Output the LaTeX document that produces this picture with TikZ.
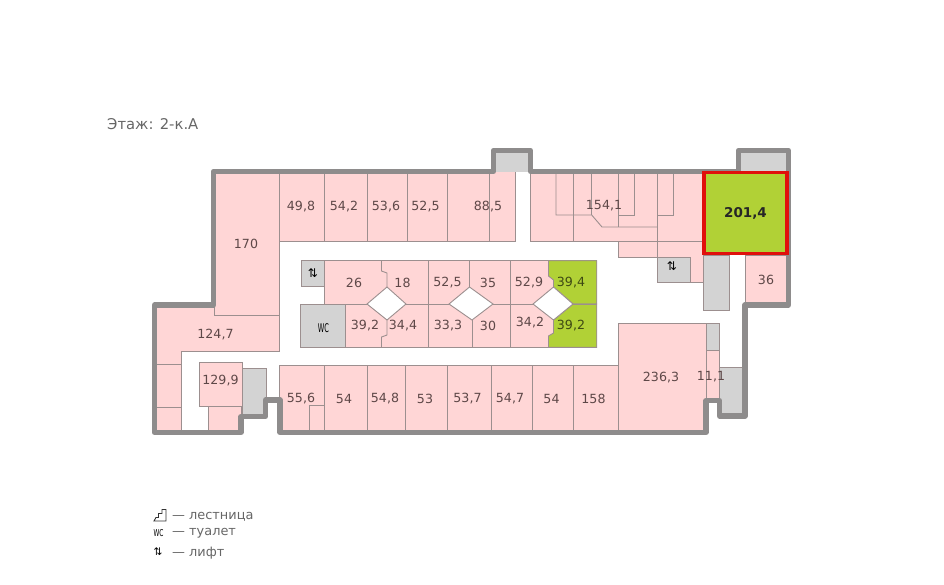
\documentclass[tikz,border=0pt]{standalone}
\usepackage{fontspec}
\setmainfont{DejaVu Sans}
\usetikzlibrary{positioning}
\definecolor{roompink}{HTML}{FFD6D6}
\definecolor{roomline}{HTML}{9C8F8F}
\definecolor{wallgray}{HTML}{8E8C8C}
\definecolor{servgray}{HTML}{D3D3D3}
\definecolor{soldgreen}{HTML}{B1D136}
\definecolor{markred}{HTML}{E0100C}
\definecolor{labelbrown}{HTML}{5E4848}
\definecolor{labelolive}{HTML}{3E4A14}
\definecolor{notegray}{HTML}{666666}
\begin{document}
\begin{tikzpicture}[
    x=1pt, y=-1pt,
    room/.style={fill=roompink, draw=roomline, line width=0.9pt},
    serv/.style={fill=servgray, draw=roomline, line width=0.9pt},
    sold/.style={fill=soldgreen, draw=roomline, line width=0.9pt},
    well/.style={fill=white, draw=roomline, line width=0.9pt},
    part/.style={draw=roomline, line width=0.9pt},
    wall/.style={draw=wallgray, line width=5.2pt, line join=round},
    marked/.style={fill=soldgreen, draw=markred, line width=3.6pt, line join=miter},
    area/.style={font=\fontsize{12.6}{14}\selectfont, text=labelbrown, inner sep=0pt},
    areagreen/.style={area, text=labelolive},
    note/.style={font=\fontsize{12.9}{14}\selectfont, text=notegray, inner sep=0pt, anchor=west},
    wcmark/.style={text=black, inner sep=0pt},
    liftmark/.style={text=black, inner sep=0pt}
]
    \useasboundingbox (0,0) rectangle (944,584);

    % rooms along the walls
    \path[room] (214,171) rectangle (279.5,315);
    \path[room] (279.5,171) rectangle (324,241);
    \path[room] (324,171) rectangle (367,241);
    \path[room] (367,171) rectangle (407,241);
    \path[room] (407,171) rectangle (447,241);
    \path[room] (447,171) rectangle (515.5,241);
    \draw[part] (489.5,171) -- (489.5,241);
    \path[room] (155,305) -- (214,305) -- (214,315) -- (279.5,315) -- (279.5,351) -- (181,351) -- (181,432) -- (155,432) -- cycle;
    \draw[part] (155,364) -- (181,364);
    \draw[part] (155,407) -- (181,407);
    \path[room] (208.5,405) rectangle (241,432);
    \path[room] (199,362) rectangle (242,406);
    \path[serv] (242,368.5) rectangle (266,415);

    % bottom row
    \path[room] (279.5,365) rectangle (324,432);
    \path[room] (309.5,405) rectangle (324,432);
    \path[room] (324,365) rectangle (367,432);
    \path[room] (367,365) rectangle (405,432);
    \path[room] (405,365) rectangle (447,432);
    \path[room] (447,365) rectangle (491,432);
    \path[room] (491,365) rectangle (532,432);
    \path[room] (532,365) rectangle (573,432);
    \path[room] (573,365) rectangle (618.5,432);
    \path[room] (618.5,323.5) rectangle (706,432);
    \path[serv] (706,323.5) rectangle (719,350.5);
    \path[room] (706,350.5) rectangle (719,400);
    \path[serv] (719.5,367) rectangle (743,415);

    % right part, room 154,1
    \path[room] (530.5,171) -- (703,171) -- (703,282) -- (657.5,282) -- (657.5,257) -- (618.5,257) -- (618.5,241) -- (530.5,241) -- cycle;
    \path[serv] (657.5,257) rectangle (690.5,282);
    \draw[part] (618.5,241) -- (703,241);
    \draw[part] (657.5,171) -- (657.5,257);
    \draw[part] (556,171) -- (556,215) -- (591.7,215) -- (602,227) -- (657.5,227);
    \draw[part] (573,171) -- (573,241);
    \draw[part] (591.7,171) -- (591.7,215);
    \draw[part] (618,171) -- (618,227);
    \draw[part] (618,215) -- (634.5,215) -- (634.5,171);
    \draw[part] (657.5,215) -- (673.5,215) -- (673.5,171);
    \path[serv] (703.5,255) rectangle (729.5,310);
    \path[room] (745,255) rectangle (788,305);
    \fill[servgray] (741,152) rectangle (787,171);
    \fill[servgray] (496,152) rectangle (528,172);

    % central block
    \path[room] (324.5,260.7) rectangle (596.7,347.3);
    \path[serv] (301.5,260.7) rectangle (324.5,286.5);
    \path[serv] (300,304) rectangle (345,347.3);
    \path[sold] (548.5,260.7) -- (596.7,260.7) -- (596.7,304) -- (573,304) -- (553.5,287) -- (553.5,280) -- (548.5,276) -- cycle;
    \path[sold] (548.5,347.3) -- (596.7,347.3) -- (596.7,304) -- (573,304) -- (553.5,320) -- (553.5,333) -- (548.5,336) -- cycle;
    \draw[part] (324.5,304) -- (597,304);
    \draw[part] (428,260.7) -- (428,347.3);
    \draw[part] (510.4,260.7) -- (510.4,347.3);
    \draw[part] (469.5,260.7) -- (469.5,287);
    \draw[part] (472,320) -- (472,347.3);
    \draw[part] (381.5,260.7) -- (381.5,271) -- (387,273) -- (387,287);
    \draw[part] (387,320) -- (387,335) -- (381.5,337) -- (381.5,347.3);
    \path[well] (367,304) -- (387,287) -- (406,304) -- (387,320) -- cycle;
    \path[well] (449,304) -- (469.5,287) -- (493,304) -- (472,320) -- cycle;
    \path[well] (533,304) -- (553.5,287) -- (573,304) -- (553.5,320) -- cycle;

    % outer wall
    \draw[wall] (213.5,171.5) -- (213.5,305) -- (154.5,305) -- (154.5,432.5) -- (241,432.5) -- (241,416.5) -- (265.5,416.5) -- (265.5,400) -- (280,400) -- (280,432.5) -- (706,432.5) -- (706,400.5) -- (719.5,400.5) -- (719.5,416) -- (745,416) -- (745,305) -- (788.5,305) -- (788.5,150.5) -- (738.5,150.5) -- (738.5,171.5) -- (530.5,171.5) -- (530.5,150.5) -- (493.5,150.5) -- (493.5,171.5) -- cycle;
    \path[marked] (703.7,172.5) rectangle (787,253.3);

    % areas
    \node[area] (a170) at (246,243.5) {170};
    \node[area] (a498) at (301,206.5) {49,8};
    \node[area] (a542) at (344,206.5) {54,2};
    \node[area] (a536) at (386,206.5) {53,6};
    \node[area] (a525) at (425.5,206.5) {52,5};
    \node[area] (a885) at (488,206.5) {88,5};
    \node[area] (a1541) at (604,205.5) {154,1};
    \node[area, font=\fontsize{13.5}{14}\selectfont\bfseries, text=black!85] (a2014) at (745.5,213.5) {201,4};
    \node[area] (a36) at (766,279.5) {36};
    \node[area] (a26) at (354,283) {26};
    \node[area] (a18) at (402.5,283) {18};
    \node[area] (a525b) at (447.5,283) {52,5};
    \node[area] (a35) at (488,283) {35};
    \node[area] (a529) at (529,283) {52,9};
    \node[areagreen] (a394) at (571,283) {39,4};
    \node[area] (a392) at (365,325.5) {39,2};
    \node[area] (a344) at (403,325.5) {34,4};
    \node[area] (a333) at (448,325.5) {33,3};
    \node[area] (a30) at (488,325.5) {30};
    \node[area] (a342) at (530,323) {34,2};
    \node[areagreen] (a392b) at (571,325.5) {39,2};
    \node[area] (a1247) at (215.5,334.5) {124,7};
    \node[area] (a1299) at (220.5,381) {129,9};
    \node[area] (a556) at (301,398.5) {55,6};
    \node[area] (a54) at (344,398.5) {54};
    \node[area] (a548) at (385,398.5) {54,8};
    \node[area] (a53) at (425,398.5) {53};
    \node[area] (a537) at (467.5,398.5) {53,7};
    \node[area] (a547) at (510,398.5) {54,7};
    \node[area] (a54b) at (551.5,398.5) {54};
    \node[area] (a158) at (593.5,398.5) {158};
    \node[area] (a2363) at (661,377.5) {236,3};
    \node[area] (a111) at (711,376.5) {11,1};

    % marks on the plan
    \node[liftmark, font=\fontsize{12}{13}\selectfont] (lift1) at (313,273) {⇅};
    \node[liftmark, font=\fontsize{12}{13}\selectfont] (lift2) at (672,266.5) {⇅};
    \node[wcmark, font=\fontsize{12}{13}\selectfont] (wc1) at (323.5,328) {\scalebox{.55}[1]{WC}};

    % title and legend
    \node[note, font=\fontsize{14.8}{16}\selectfont] (floor) at (107,124) {Этаж: 2-к.А};
    \draw[black!80, line width=0.9pt] (154,521) -- (156,517.5) -- (158.5,517.5) -- (158.5,513.5) -- (162,513.5) -- (162,509.5) -- (166,509.5) -- (166,521) -- cycle;
    \node[note] (stairs) at (172,516.5) {— лестница};
    \node[wcmark, font=\fontsize{9.5}{10}\selectfont] (wc2) at (158.5,533.5) {\scalebox{.62}[1]{WC}};
    \node[note] (toilet) at (172,533.5) {— туалет};
    \node[liftmark, font=\fontsize{10.5}{11}\selectfont] (lift3) at (158,552) {⇅};
    \node[note] (liftnote) at (172,553) {— лифт};
\end{tikzpicture}
\end{document}
